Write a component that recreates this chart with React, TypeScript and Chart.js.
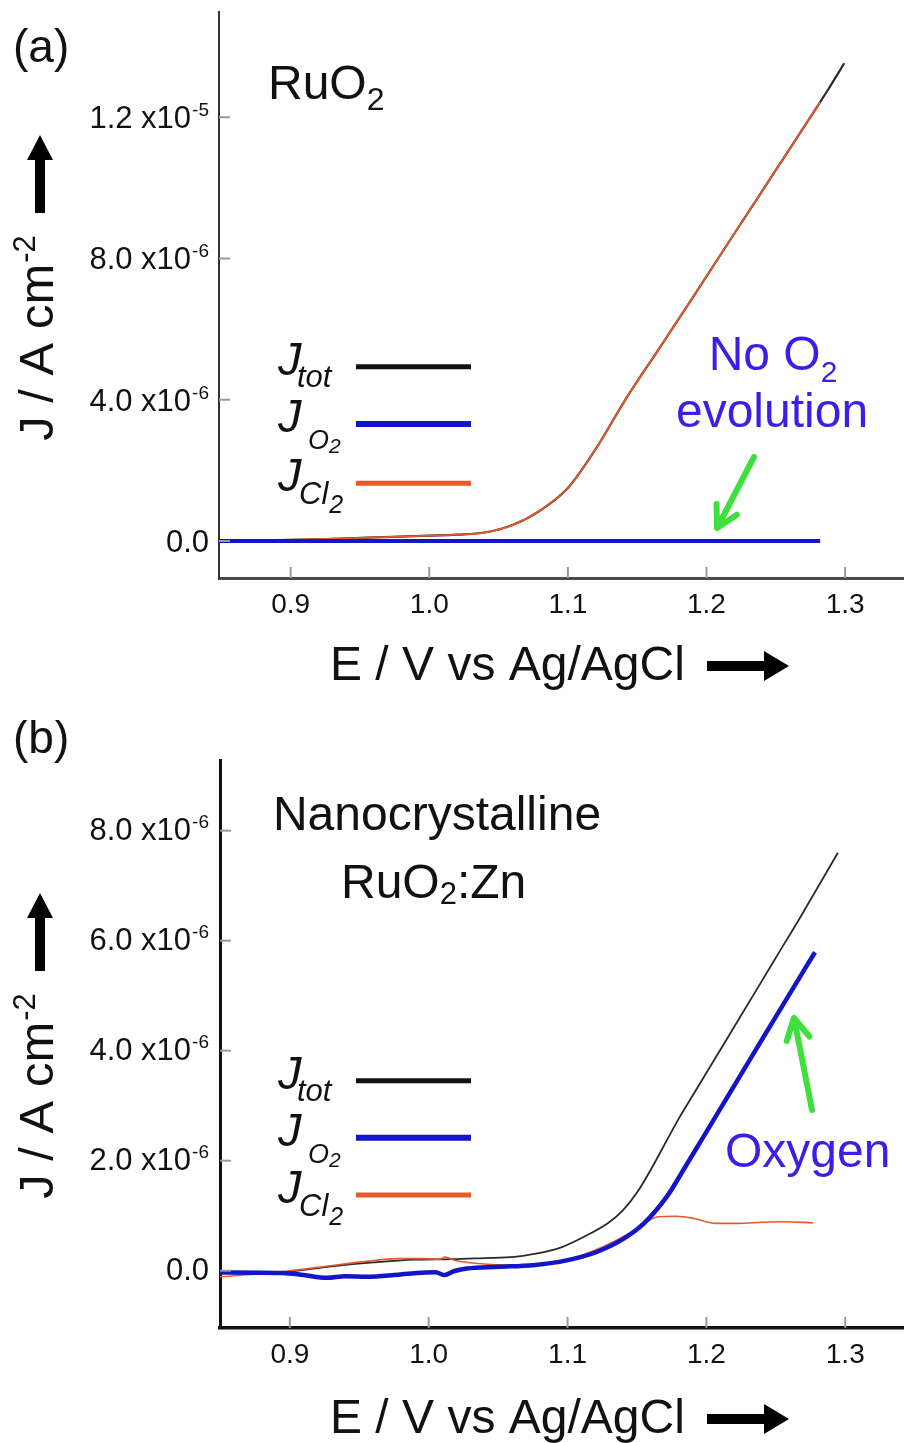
import React, { useEffect, useRef } from "react";
import { Chart, registerables } from "chart.js";
Chart.register(...registerables);

// ---------- DATA (J in units of 1e-6 A cm^-2, E in V vs Ag/AgCl) ----------
// Panel (a): RuO2
const aE_tot = [0.848, 0.88, 0.92, 0.96, 1.0, 1.02, 1.04, 1.06, 1.08, 1.1, 1.12, 1.1413, 1.165, 1.189, 1.22, 1.25, 1.282, 1.288, 1.2994];
const aJ_tot = [0.0, 0.02, 0.05, 0.1, 0.15, 0.18, 0.24, 0.45, 0.86, 1.5, 2.6, 3.99, 5.4, 6.83, 8.7, 10.5, 12.43, 12.8, 13.53];
const aE_O2 = [0.848, 1.282];
const aJ_O2 = [0, 0];
const aE_Cl2 = [0.848, 0.88, 0.92, 0.96, 1.0, 1.02, 1.04, 1.06, 1.08, 1.1, 1.12, 1.1413, 1.165, 1.189, 1.22, 1.25, 1.282];
const aJ_Cl2 = [0.0, 0.02, 0.05, 0.1, 0.15, 0.18, 0.24, 0.45, 0.86, 1.5, 2.6, 3.99, 5.4, 6.83, 8.7, 10.5, 12.43];

// Panel (b): nanocrystalline RuO2:Zn
const bE_tot = [0.8497, 0.8935, 0.93, 0.96, 0.99, 1.0164, 1.04, 1.0617, 1.075, 1.094, 1.1167, 1.13, 1.14, 1.15, 1.16, 1.17, 1.18, 1.191, 1.207, 1.2233, 1.25, 1.267, 1.2947];
const bJ_tot = [-0.05, -0.03, 0.08, 0.15, 0.2, 0.21, 0.23, 0.25, 0.3, 0.41, 0.68, 0.88, 1.1, 1.42, 1.84, 2.3, 2.76, 3.22, 3.89, 4.57, 5.69, 6.4, 7.6];
const bE_O2 = [0.8497, 0.8951, 0.91, 0.9266, 0.94, 0.9554, 0.975, 0.9914, 1.005, 1.0115, 1.018, 1.0274, 1.05, 1.0751, 1.094, 1.11, 1.121, 1.139, 1.155, 1.1716, 1.1846, 1.1975, 1.2104, 1.2233, 1.2395, 1.2556, 1.2782];
const bJ_O2 = [-0.03, -0.04, -0.08, -0.13, -0.1, -0.11, -0.08, -0.04, -0.03, -0.08, -0.01, 0.04, 0.07, 0.1, 0.16, 0.25, 0.34, 0.56, 0.86, 1.35, 1.88, 2.42, 2.96, 3.5, 4.18, 4.85, 5.79];
const bE_Cl2 = [0.8497, 0.8935, 0.932, 0.955, 0.9776, 0.995, 1.008, 1.0115, 1.02, 1.0358, 1.06, 1.08, 1.1, 1.126, 1.149, 1.165, 1.178, 1.191, 1.207, 1.2233, 1.24, 1.2556, 1.2767];
const bJ_Cl2 = [-0.11, -0.02, 0.1, 0.17, 0.22, 0.22, 0.21, 0.25, 0.18, 0.13, 0.1, 0.12, 0.2, 0.44, 0.74, 0.98, 0.99, 0.95, 0.86, 0.86, 0.88, 0.89, 0.87];

// Axis ticks
const xTicks = [0.9, 1.0, 1.1, 1.2, 1.3];
const xTickLabels = ["0.9", "1.0", "1.1", "1.2", "1.3"];
const aYTicks = [0, 4, 8, 12];
const aYMant = ["0.0", "4.0 x10", "8.0 x10", "1.2 x10"];
const aYExp = ["", "-6", "-6", "-5"];
const bYTicks = [0, 2, 4, 6, 8];
const bYMant = ["0.0", "2.0 x10", "4.0 x10", "6.0 x10", "8.0 x10"];
const bYExp = ["", "-6", "-6", "-6", "-6"];

// Axis ranges
const aXRange = [0.8483, 1.3425];
const aYRange = [-1.048, 14.98];
const bXRange = [0.8497, 1.3423];
const bYRange = [-1.042, 9.285];

// ---------- STYLE ----------
const FONT = "'Liberation Sans', Arial, Helvetica, sans-serif";
const BLACK = "#2a2a2a";
const BLUE = "#1414c8";
const ORANGE = "#e65a2a";
const TEXTBLUE = "#3c1ee6";
const GREEN = "#3ee03e";

const fnt = (size: number, italic = false) => `${italic ? "italic " : ""}${size}px ${FONT}`;

type Run = { t: string; size: number; dy?: number; dx?: number; italic?: boolean };

function drawRuns(ctx: CanvasRenderingContext2D, runs: Run[], x: number, y: number, color: string, align: "left" | "center" | "right" = "left") {
  ctx.save();
  ctx.fillStyle = color;
  ctx.textBaseline = "alphabetic";
  ctx.textAlign = "left";
  let total = 0;
  const widths = runs.map((r) => {
    ctx.font = fnt(r.size, r.italic);
    const w = ctx.measureText(r.t).width + (r.dx || 0);
    total += w;
    return w;
  });
  let cx = align === "left" ? x : align === "center" ? x - total / 2 : x - total;
  runs.forEach((r, i) => {
    ctx.font = fnt(r.size, r.italic);
    ctx.fillText(r.t, cx + (r.dx || 0), y + (r.dy || 0));
    cx += widths[i];
  });
  ctx.restore();
}

function blockArrow(ctx: CanvasRenderingContext2D, x1: number, y1: number, x2: number, y2: number, shaft: number, headLen: number, headW: number, color: string) {
  const ang = Math.atan2(y2 - y1, x2 - x1);
  const len = Math.hypot(x2 - x1, y2 - y1);
  ctx.save();
  ctx.translate(x1, y1);
  ctx.rotate(ang);
  ctx.fillStyle = color;
  ctx.beginPath();
  ctx.moveTo(0, -shaft / 2);
  ctx.lineTo(len - headLen, -shaft / 2);
  ctx.lineTo(len - headLen, -headW / 2);
  ctx.lineTo(len, 0);
  ctx.lineTo(len - headLen, headW / 2);
  ctx.lineTo(len - headLen, shaft / 2);
  ctx.lineTo(0, shaft / 2);
  ctx.closePath();
  ctx.fill();
  ctx.restore();
}

function lineArrow(ctx: CanvasRenderingContext2D, x1: number, y1: number, x2: number, y2: number, w: number, headLen: number, color: string) {
  const ang = Math.atan2(y2 - y1, x2 - x1);
  ctx.save();
  ctx.strokeStyle = color;
  ctx.lineWidth = w;
  ctx.lineCap = "round";
  ctx.lineJoin = "round";
  ctx.beginPath();
  ctx.moveTo(x1, y1);
  ctx.lineTo(x2, y2);
  const a1 = ang + Math.PI - 0.5;
  const a2 = ang + Math.PI + 0.5;
  ctx.moveTo(x2 + headLen * Math.cos(a1), y2 + headLen * Math.sin(a1));
  ctx.lineTo(x2, y2);
  ctx.lineTo(x2 + headLen * Math.cos(a2), y2 + headLen * Math.sin(a2));
  ctx.stroke();
  ctx.restore();
}

function drawLegend(ctx: CanvasRenderingContext2D, lineYs: number[]) {
  const colors = ["#111", BLUE, ORANGE];
  const widths = [5, 6, 5];
  lineYs.forEach((y, i) => {
    ctx.save();
    ctx.strokeStyle = colors[i];
    ctx.lineWidth = widths[i];
    ctx.beginPath();
    ctx.moveTo(356, y);
    ctx.lineTo(471, y);
    ctx.stroke();
    ctx.restore();
    drawRuns(ctx, [{ t: "J", size: 47, italic: true }], 278, y + 8, "#111");
  });
  drawRuns(ctx, [{ t: "tot", size: 31, italic: true }], 297, lineYs[0] + 8 + 12, "#111");
  drawRuns(ctx, [{ t: "O", size: 27, italic: true }, { t: "2", size: 21, italic: true, dy: 4, dx: 0 }], 308, lineYs[1] + 8 + 17, "#111");
  drawRuns(ctx, [{ t: "Cl", size: 31, italic: true }, { t: "2", size: 25, italic: true, dy: 9, dx: 1 }], 299, lineYs[2] + 8 + 13, "#111");
}

function drawAxisDecor(chart: any, yTicks: number[], yMant: string[], yExp: string[], yLabOff: number, xLabBase: number) {
  const ctx: CanvasRenderingContext2D = chart.ctx;
  const xs = chart.scales.x;
  const ys = chart.scales.y;
  const ca = chart.chartArea;
  ctx.save();
  ctx.strokeStyle = "#9a9a9a";
  ctx.lineWidth = 2;
  yTicks.forEach((v) => {
    const py = ys.getPixelForValue(v);
    ctx.beginPath();
    ctx.moveTo(ca.left, py);
    ctx.lineTo(ca.left + 11, py);
    ctx.stroke();
  });
  xTicks.forEach((v) => {
    const px = xs.getPixelForValue(v);
    ctx.beginPath();
    ctx.moveTo(px, ca.bottom);
    ctx.lineTo(px, ca.bottom - 11);
    ctx.stroke();
  });
  ctx.restore();
  yTicks.forEach((v, i) => {
    const py = ys.getPixelForValue(v);
    const runs: Run[] = [{ t: yMant[i], size: 31 }];
    if (yExp[i]) runs.push({ t: yExp[i], size: 19, dy: -12, dx: 1 });
    drawRuns(ctx, runs, 209, py + yLabOff, "#111", "right");
  });
  xTicks.forEach((v, i) => {
    const px = xs.getPixelForValue(v);
    drawRuns(ctx, [{ t: xTickLabels[i], size: 28 }], px, xLabBase, "#111", "center");
  });
}

function drawTitles(ctx: CanvasRenderingContext2D, yTitleCenter: number, arrowTip: number, xTitleBase: number) {
  ctx.save();
  ctx.translate(53, yTitleCenter);
  ctx.rotate(-Math.PI / 2);
  drawRuns(ctx, [{ t: "J / A cm", size: 49 }, { t: "-2", size: 31, dy: -18, dx: 1 }], 0, 0, "#111", "center");
  ctx.restore();
  blockArrow(ctx, 40, arrowTip + 78, 40, arrowTip, 10, 25, 26, "#000");
  drawRuns(ctx, [{ t: "E / V vs Ag/AgCl", size: 48 }], 330, xTitleBase, "#111");
  blockArrow(ctx, 707, xTitleBase - 14, 789, xTitleBase - 14, 10, 25, 30, "#000");
}

function ds(label: string, E: number[], J: number[], color: string, width: number, order: number) {
  return {
    label,
    data: E.map((e, i) => ({ x: e, y: J[i] })),
    borderColor: color,
    borderWidth: width,
    pointRadius: 0,
    fill: false,
    cubicInterpolationMode: "monotone",
    order,
  };
}

function baseOptions(xr: number[], yr: number[], padding: any, axisColor: string, xW: number, yW: number, yC: string) {
  return {
    responsive: false,
    animation: false,
    events: [],
    layout: { padding },
    plugins: { legend: { display: false }, tooltip: { enabled: false } },
    scales: {
      x: {
        type: "linear",
        min: xr[0],
        max: xr[1],
        grid: { display: false, drawTicks: false },
        border: { display: true, color: axisColor, width: xW },
        ticks: { display: false },
        afterFit: (s: any) => {
          s.height = 0;
        },
      },
      y: {
        type: "linear",
        min: yr[0],
        max: yr[1],
        grid: { display: false, drawTicks: false },
        border: { display: true, color: yC, width: yW },
        ticks: { display: false },
        afterFit: (s: any) => {
          s.width = 0;
        },
      },
    },
  };
}

export default function App() {
  const refA = useRef<HTMLCanvasElement>(null);
  const refB = useRef<HTMLCanvasElement>(null);

  useEffect(() => {
    const chartA = new Chart(refA.current!, {
      type: "line",
      data: {
        datasets: [
          ds("J_O2", aE_O2, aJ_O2, BLUE, 4, 0),
          ds("J_Cl2", aE_Cl2, aJ_Cl2, ORANGE, 1.8, 1),
          ds("J_tot", aE_tot, aJ_tot, BLACK, 2.2, 2),
        ],
      },
      options: baseOptions(aXRange, aYRange, { left: 219, top: 12, right: 0, bottom: 142 }, "#4a4a4a", 3, 2, "#333") as any,
      plugins: [
        {
          id: "annotA",
          afterDraw(chart: any) {
            const ctx = chart.ctx as CanvasRenderingContext2D;
            drawAxisDecor(chart, aYTicks, aYMant, aYExp, 11, 613);
            drawRuns(ctx, [{ t: "(a)", size: 46 }], 13, 62, "#111");
            drawRuns(ctx, [{ t: "RuO", size: 48 }, { t: "2", size: 32, dy: 11 }], 268, 99, "#111");
            drawLegend(ctx, [366.7, 424, 483.3]);
            drawRuns(ctx, [{ t: "No O", size: 48 }, { t: "2", size: 30, dy: 12 }], 773, 370, TEXTBLUE, "center");
            drawRuns(ctx, [{ t: "evolution", size: 48 }], 772, 427, TEXTBLUE, "center");
            lineArrow(ctx, 754, 457, 717, 528, 6, 24, GREEN);
            drawTitles(ctx, 338, 135, 680);
          },
        },
      ],
    } as any);

    const chartB = new Chart(refB.current!, {
      type: "line",
      data: {
        datasets: [
          ds("J_O2", bE_O2, bJ_O2, BLUE, 4.5, 0),
          ds("J_Cl2", bE_Cl2, bJ_Cl2, ORANGE, 1.6, 1),
          ds("J_tot", bE_tot, bJ_tot, BLACK, 1.8, 2),
        ],
      },
      options: baseOptions(bXRange, bYRange, { left: 220, top: 40, right: 0, bottom: 115 }, "#111", 3.5, 3, "#111") as any,
      plugins: [
        {
          id: "annotB",
          afterDraw(chart: any) {
            const ctx = chart.ctx as CanvasRenderingContext2D;
            drawAxisDecor(chart, bYTicks, bYMant, bYExp, 9, 643);
            drawRuns(ctx, [{ t: "(b)", size: 46 }], 13, 33, "#111");
            drawRuns(ctx, [{ t: "Nanocrystalline", size: 48 }], 437, 110, "#111", "center");
            drawRuns(ctx, [{ t: "RuO", size: 48 }, { t: "2", size: 31, dy: 6 }, { t: ":Zn", size: 48 }], 341, 178, "#111");
            drawLegend(ctx, [360.7, 417.7, 475]);
            drawRuns(ctx, [{ t: "Oxygen", size: 48 }], 725, 447, TEXTBLUE);
            lineArrow(ctx, 812, 390, 794, 298, 6, 24, GREEN);
            drawTitles(ctx, 376, 173, 713);
          },
        },
      ],
    } as any);

    return () => {
      chartA.destroy();
      chartB.destroy();
    };
  }, []);

  return (
    <div style={{ position: "absolute", left: 0, top: 0, width: 904, height: 1443, background: "#fff" }}>
      <canvas ref={refA} width={904} height={720} style={{ position: "absolute", left: 0, top: 0, width: 904, height: 720 }} />
      <canvas ref={refB} width={904} height={723} style={{ position: "absolute", left: 0, top: 720, width: 904, height: 723 }} />
    </div>
  );
}
